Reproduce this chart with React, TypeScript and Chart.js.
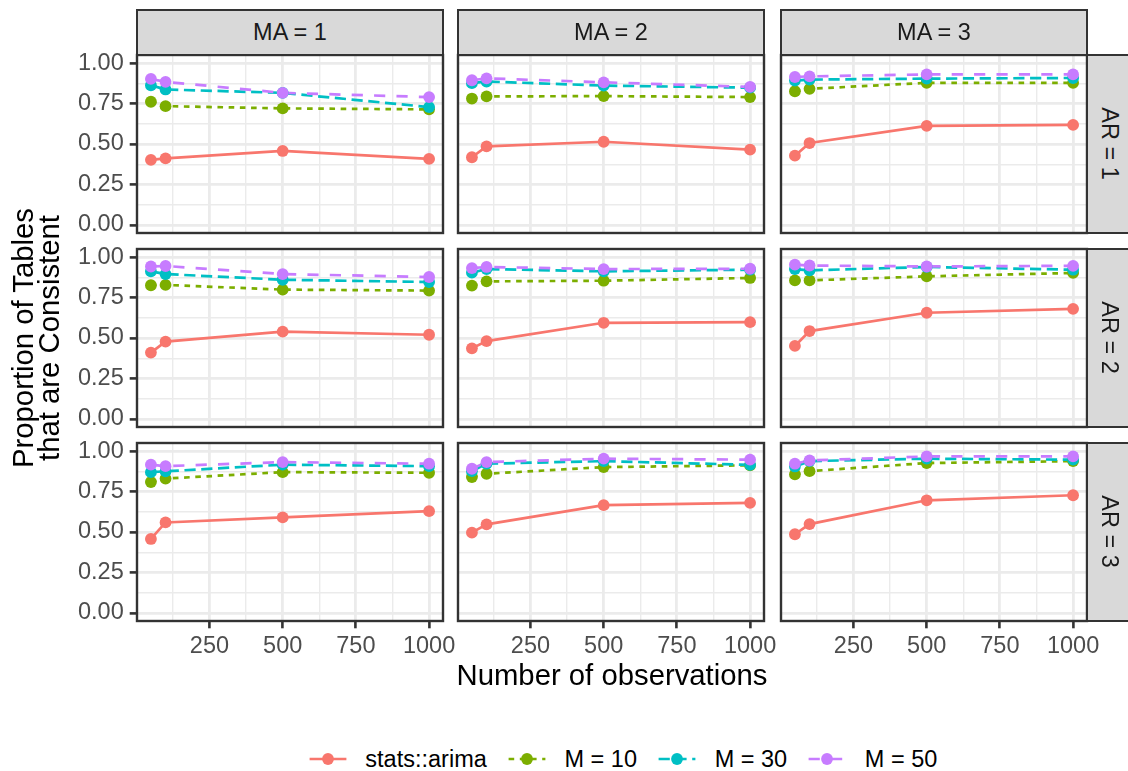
import React, { useEffect, useRef } from "react";
import { Chart, registerables } from "chart.js";

Chart.register(...registerables);

// ---------------- DATA ----------------
const nObs = [50, 100, 500, 1000];
const maLabels = ["MA = 1", "MA = 2", "MA = 3"];
const arLabels = ["AR = 1", "AR = 2", "AR = 3"];
const seriesNames = ["stats::arima", "M = 10", "M = 30", "M = 50"];

// panels in row-major order: AR=1 (MA=1,2,3), AR=2 (MA=1,2,3), AR=3 (MA=1,2,3)
const statsArima = [
  [0.402, 0.411, 0.457, 0.408],
  [0.418, 0.485, 0.514, 0.465],
  [0.428, 0.506, 0.612, 0.618],
  [0.41, 0.478, 0.539, 0.52],
  [0.436, 0.481, 0.594, 0.598],
  [0.451, 0.543, 0.656, 0.68],
  [0.457, 0.559, 0.59, 0.629],
  [0.496, 0.547, 0.666, 0.68],
  [0.486, 0.549, 0.696, 0.727],
];
const m10 = [
  [0.761, 0.734, 0.72, 0.714],
  [0.781, 0.794, 0.796, 0.79],
  [0.826, 0.841, 0.878, 0.878],
  [0.826, 0.828, 0.799, 0.793],
  [0.824, 0.85, 0.854, 0.871],
  [0.856, 0.856, 0.881, 0.902],
  [0.809, 0.83, 0.87, 0.866],
  [0.84, 0.86, 0.901, 0.912],
  [0.856, 0.876, 0.926, 0.938],
];
const m30 = [
  [0.863, 0.837, 0.816, 0.728],
  [0.876, 0.886, 0.861, 0.848],
  [0.892, 0.898, 0.904, 0.908],
  [0.912, 0.895, 0.86, 0.846],
  [0.904, 0.926, 0.912, 0.922],
  [0.926, 0.918, 0.939, 0.922],
  [0.87, 0.875, 0.916, 0.907],
  [0.876, 0.922, 0.938, 0.915],
  [0.905, 0.938, 0.953, 0.947],
];
const m50 = [
  [0.902, 0.884, 0.816, 0.79],
  [0.894, 0.906, 0.881, 0.853],
  [0.914, 0.918, 0.93, 0.93],
  [0.942, 0.945, 0.895, 0.877],
  [0.932, 0.939, 0.926, 0.928],
  [0.953, 0.948, 0.942, 0.946],
  [0.916, 0.907, 0.932, 0.922],
  [0.891, 0.932, 0.953, 0.947],
  [0.922, 0.942, 0.967, 0.967],
];
const allSeries = [statsArima, m10, m30, m50];

const xTickValues = [250, 500, 750, 1000];
const xMinorValues = [125, 375, 625, 875];
const yTickValues = [0, 0.25, 0.5, 0.75, 1];
const yTickLabels = ["0.00", "0.25", "0.50", "0.75", "1.00"];
const yMinorValues = [0.125, 0.375, 0.625, 0.875];

// ---------------- STYLE / LAYOUT ----------------
const COLORS = ["#F8766D", "#7CAE00", "#00BFC4", "#C77CFF"];
const U = 2.8;
const DASHES: number[][] = [[], [2 * U, 2 * U], [4 * U, 2 * U], [4 * U, 4 * U]];
const LINE_W = 2.7;
const POINT_R = 5.9;
const FONT = "'Liberation Sans', Arial, Helvetica, sans-serif";
const SMALL = 23.5;
const BIG = 29.3;

const PANEL_LEFTS = [137, 458, 781];
const PANEL_TOPS = [55, 249, 443];
const PANEL_W = 306;
const PANEL_H = 178;
const STRIP = 45;
const AX = 80;
const AB = 50;
const PADT = 14;
const PADR = 30;

const framePlugin = {
  id: "panelFrame",
  afterDraw(chart: any) {
    const { ctx, chartArea } = chart;
    const { left, top, right, bottom } = chartArea;
    ctx.save();
    ctx.strokeStyle = "#333333";
    ctx.lineWidth = 2.4;
    ctx.strokeRect(left, top, right - left, bottom - top);
    ctx.restore();
  },
};

const isMajorX = (v: number) => xTickValues.some((t) => Math.abs(t - v) < 1e-6);
const isMajorY = (v: number) => yTickValues.some((t) => Math.abs(t - v) < 1e-6);

function Panel({ row, col }: { row: number; col: number }) {
  const ref = useRef<HTMLCanvasElement>(null);
  const idx = row * 3 + col;
  const W = AX + PANEL_W + PADR;
  const H = PADT + PANEL_H + AB;
  const showX = row === 2;
  const showY = col === 0;

  useEffect(() => {
    if (!ref.current) return;
    const datasets: any[] = [];
    allSeries.forEach((series, s) => {
      datasets.push({
        type: "line",
        label: seriesNames[s] + " line",
        data: nObs.map((x, i) => ({ x, y: series[idx][i] })),
        borderColor: COLORS[s],
        borderWidth: LINE_W,
        borderDash: DASHES[s],
        borderCapStyle: "butt",
        pointRadius: 0,
        fill: false,
        tension: 0,
        order: 10 - s,
      });
    });
    allSeries.forEach((series, s) => {
      datasets.push({
        type: "line",
        label: seriesNames[s],
        data: nObs.map((x, i) => ({ x, y: series[idx][i] })),
        showLine: false,
        pointRadius: POINT_R,
        pointBorderWidth: 0,
        pointBackgroundColor: COLORS[s],
        pointBorderColor: COLORS[s],
        order: 4 - s,
      });
    });

    const chart = new Chart(ref.current, {
      type: "line",
      data: { datasets },
      options: {
        animation: false,
        responsive: false,
        maintainAspectRatio: false,
        layout: { padding: { top: PADT, right: PADR, left: 0, bottom: 0 } },
        plugins: { legend: { display: false }, tooltip: { enabled: false }, title: { display: false } },
        events: [],
        scales: {
          x: {
            type: "linear",
            min: 2.5,
            max: 1047.5,
            afterBuildTicks: (s: any) => {
              s.ticks = [...xMinorValues, ...xTickValues].sort((a, b) => a - b).map((v) => ({ value: v }));
            },
            afterFit: (s: any) => {
              s.height = AB;
              s.paddingLeft = 0;
              s.paddingRight = 0;
            },
            ticks: {
              display: showX,
              autoSkip: false,
              maxRotation: 0,
              padding: 4,
              color: "#4D4D4D",
              font: { family: FONT, size: SMALL },
              callback: (v: any) => (isMajorX(Number(v)) ? String(v) : ""),
            },
            grid: {
              color: "#EBEBEB",
              lineWidth: (c: any) => (c.tick && isMajorX(c.tick.value) ? 2.8 : 1.4),
              drawTicks: true,
              tickLength: 7.3,
              tickWidth: 2.6,
              tickColor: (c: any) => (showX && c.tick && isMajorX(c.tick.value) ? "#333333" : "rgba(0,0,0,0)"),
            },
            border: { display: false },
          },
          y: {
            type: "linear",
            min: -0.05,
            max: 1.05,
            afterBuildTicks: (s: any) => {
              s.ticks = [...yMinorValues, ...yTickValues].sort((a, b) => a - b).map((v) => ({ value: v }));
            },
            afterFit: (s: any) => {
              s.width = AX;
              s.paddingTop = 0;
              s.paddingBottom = 0;
            },
            ticks: {
              display: showY,
              autoSkip: false,
              padding: 6,
              color: "#4D4D4D",
              font: { family: FONT, size: SMALL },
              callback: (v: any) => {
                const k = yTickValues.findIndex((t) => Math.abs(t - Number(v)) < 1e-6);
                return k >= 0 ? yTickLabels[k] : "";
              },
            },
            grid: {
              color: "#EBEBEB",
              lineWidth: (c: any) => (c.tick && isMajorY(c.tick.value) ? 2.8 : 1.4),
              drawTicks: true,
              tickLength: 7.3,
              tickWidth: 2.6,
              tickColor: (c: any) => (showY && c.tick && isMajorY(c.tick.value) ? "#333333" : "rgba(0,0,0,0)"),
            },
            border: { display: false },
          },
        },
      } as any,
      plugins: [framePlugin],
    });
    return () => chart.destroy();
  }, [row, col]);

  return (
    <canvas
      ref={ref}
      width={W}
      height={H}
      style={{
        position: "absolute",
        left: PANEL_LEFTS[col] - AX,
        top: PANEL_TOPS[row] - PADT,
        width: W,
        height: H,
      }}
    />
  );
}

function LegendKey({ s }: { s: number }) {
  return (
    <svg width={46} height={40} style={{ display: "block" }}>
      <line
        x1={4.6}
        x2={41.4}
        y1={20}
        y2={20}
        stroke={COLORS[s]}
        strokeWidth={LINE_W}
        strokeDasharray={DASHES[s].length ? DASHES[s].join(" ") : undefined}
      />
      <circle cx={23} cy={20} r={POINT_R} fill={COLORS[s]} />
    </svg>
  );
}

export default function App() {
  const stripBorder = "2.4px solid #333333";
  return (
    <div
      style={{
        position: "absolute",
        left: 0,
        top: 0,
        width: 1128,
        height: 771,
        overflow: "hidden",
        background: "#FFFFFF",
        fontFamily: FONT,
      }}
    >
      {[0, 1, 2].map((r) =>
        [0, 1, 2].map((c) => <Panel key={`${r}-${c}`} row={r} col={c} />)
      )}

      {/* top strips */}
      {maLabels.map((lab, c) => (
        <div
          key={lab}
          style={{
            position: "absolute",
            left: PANEL_LEFTS[c] - 1.2,
            top: PANEL_TOPS[0] - STRIP - 1.2,
            width: PANEL_W + 2.4,
            height: STRIP + 2.4,
            boxSizing: "border-box",
            border: stripBorder,
            background: "#D9D9D9",
            color: "#1A1A1A",
            fontSize: SMALL,
            display: "flex",
            alignItems: "center",
            justifyContent: "center",
          }}
        >
          {lab}
        </div>
      ))}

      {/* right strips */}
      {arLabels.map((lab, r) => (
        <div
          key={lab}
          style={{
            position: "absolute",
            left: PANEL_LEFTS[2] + PANEL_W - 1.2,
            top: PANEL_TOPS[r] - 1.2,
            width: STRIP + 2.4,
            height: PANEL_H + 2.4,
            boxSizing: "border-box",
            border: stripBorder,
            background: "#D9D9D9",
            color: "#1A1A1A",
            fontSize: SMALL,
            display: "flex",
            alignItems: "center",
            justifyContent: "center",
          }}
        >
          <div style={{ transform: "rotate(90deg)", whiteSpace: "nowrap" }}>{lab}</div>
        </div>
      ))}

      {/* x axis title */}
      <div
        style={{
          position: "absolute",
          left: PANEL_LEFTS[0],
          width: PANEL_LEFTS[2] + PANEL_W - PANEL_LEFTS[0],
          top: 660,
          lineHeight: `${BIG}px`,
          fontSize: BIG,
          textAlign: "center",
          color: "#000000",
        }}
      >
        Number of observations
      </div>

      {/* y axis title */}
      <div
        style={{
          position: "absolute",
          left: 36 - 200,
          top: 338 - 26,
          width: 400,
          height: 52,
          fontSize: BIG,
          lineHeight: "26px",
          textAlign: "center",
          color: "#000000",
          transform: "rotate(-90deg)",
          transformOrigin: "50% 50%",
        }}
      >
        <div>Proportion of Tables</div>
        <div>that are Consistent</div>
      </div>

      {/* legend */}
      <div
        style={{
          position: "absolute",
          left: 0,
          width: 1242,
          top: 759 - 20,
          height: 40,
          display: "flex",
          justifyContent: "center",
          alignItems: "center",
          gap: 17,
        }}
      >
        {seriesNames.map((name, s) => (
          <div key={name} style={{ display: "flex", alignItems: "center" }}>
            <LegendKey s={s} />
            <span style={{ marginLeft: 14.7, fontSize: SMALL, color: "#000000", whiteSpace: "nowrap" }}>{name}</span>
          </div>
        ))}
      </div>
    </div>
  );
}
